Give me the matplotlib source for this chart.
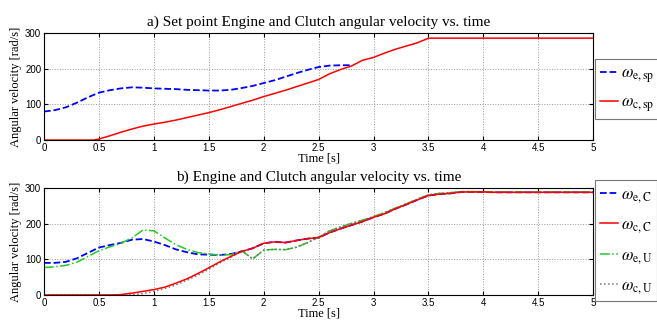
import matplotlib.pyplot as plt
import numpy as np

#-------------------------------------------------------------------------------
# DATA
#-------------------------------------------------------------------------------

# a) set points
t_e_sp = np.round(np.arange(0, 2.85, 0.1), 2)
w_e_sp = [80, 84, 92, 105, 120, 133, 140, 145, 148, 147, 145, 144, 143, 141,
          140, 139, 139, 141, 146, 152, 160, 168, 178, 188, 197, 205, 209, 210,
          210]

t_c_sp = [0, 0.45, 0.5, 0.6, 0.7, 0.8, 0.9, 1.0, 1.1, 1.2, 1.3, 1.4, 1.5, 1.6,
          1.7, 1.8, 1.9, 2.0, 2.1, 2.2, 2.3, 2.4, 2.5, 2.6, 2.7, 2.8, 2.9, 3.0,
          3.1, 3.2, 3.3, 3.4, 3.5, 5.0]
w_c_sp = [0, 0, 3, 12, 22, 31, 39, 45, 50, 56, 63, 70, 77, 85, 94, 103, 112,
          122, 131, 140, 150, 160, 170, 186, 198, 208, 224, 232, 244, 255, 264,
          273, 286, 286]

# b) controlled (C) and uncontrolled (U) responses, 0.1 s steps
t_b = np.round(np.arange(0, 5.05, 0.1), 2)
w_c_C = [0, 0, 0, 0, 0, 0, 0, 1, 5, 10, 15, 22, 33, 45, 60, 76, 93, 108, 122,
         131, 145, 149, 147, 153, 158, 161, 175, 186, 196, 206, 218, 228, 242,
         254, 267, 279, 283, 285, 289, 289, 289, 288, 288, 288, 288, 288, 288,
         288, 288, 288, 288]
w_e_C = [90, 90, 93, 103, 118, 133, 140, 146, 155, 157, 150, 140, 128, 120,
         114, 113, 112, 115, 122] + w_c_C[19:]
w_e_U = [77, 79, 83, 92, 108, 124, 135, 145, 160, 182, 180, 160, 141, 128, 119,
         115, 112, 113, 124, 101, 126, 128, 127, 134, 147, 162, 180, 191, 201,
         210, 220, 231, 244, 256, 269, 281, 285, 287, 290, 290, 290, 289, 289,
         289, 289, 289, 289, 289, 289, 289, 289]
w_c_U = [0, 0, 0, 0, 0, 0, 0, 0, 0, 4, 10, 18, 28, 41, 56, 72, 90, 106,
         124] + w_e_U[19:]

#-------------------------------------------------------------------------------
# PLOT
#-------------------------------------------------------------------------------

plt.rcParams['mathtext.fontset'] = 'stix'
SERIF = 'Liberation Serif'


def style_axes(ax, title):
    ax.set_xlim(0, 5)
    ax.set_ylim(0, 300)
    ax.set_xticks(np.arange(0, 5.01, 0.5))
    ax.set_xticklabels(['0', '0.5', '1', '1.5', '2', '2.5', '3', '3.5', '4',
                        '4.5', '5'])
    ax.set_yticks([0, 100, 200, 300])
    ax.tick_params(direction='in', top=True, right=True, length=3,
                   labelsize=7, pad=2)
    for lab in ax.get_xticklabels() + ax.get_yticklabels():
        lab.set_family('Liberation Sans')
    ax.grid(True, linestyle=':', color='#999999', linewidth=0.7)
    for s in ax.spines.values():
        s.set_linewidth(0.8)
    ax.set_title(title, family=SERIF, fontsize=11, pad=5)
    ax.set_xlabel('Time [s]', family=SERIF, fontsize=9, labelpad=0)
    ax.set_ylabel('Angular velocity [rad/s]', family=SERIF, fontsize=9,
                  labelpad=2)


fig = plt.figure(figsize=(6.57, 3.22), dpi=100)
ax1 = fig.add_axes([0.067, 0.565, 0.836, 0.332])
ax2 = fig.add_axes([0.067, 0.084, 0.836, 0.332])

ax1.plot(t_e_sp, w_e_sp, '--', color='blue', lw=1.3,
         label=r'$\omega_{\mathrm{e,sp}}$')
ax1.plot(t_c_sp, w_c_sp, '-', color='red', lw=1.1,
         label=r'$\omega_{\mathrm{c,sp}}$')
style_axes(ax1, 'a) Set point Engine and Clutch angular velocity vs. time')

ax2.plot(t_b, w_e_C, '--', color='blue', lw=1.3, label=r'$\omega_{\mathrm{e,C}}$')
ax2.plot(t_b, w_e_U, '-.', color='#22cc22', lw=1.1,
         label=r'$\omega_{\mathrm{e,U}}$')
ax2.plot(t_b, w_c_U, ':', color='#777777', lw=1.1,
         label=r'$\omega_{\mathrm{c,U}}$')
ax2.plot(t_b, w_c_C, '-', color='red', lw=1.1, label=r'$\omega_{\mathrm{c,C}}$')
style_axes(ax2, 'b) Engine and Clutch angular velocity vs. time')

# legend order follows the original listing
h, l = ax2.get_legend_handles_labels()
order = [0, 3, 1, 2]

leg_kw = dict(loc='upper left', fontsize=12, frameon=True, fancybox=False,
              edgecolor='#555555', handlelength=1.1, handletextpad=0.15,
              borderpad=0.3, borderaxespad=0)
leg1 = ax1.legend(bbox_to_anchor=(0.9056, 0.817), bbox_transform=fig.transFigure,
                  labelspacing=0.45, **leg_kw)
leg2 = ax2.legend([h[i] for i in order], [l[i] for i in order],
                  bbox_to_anchor=(0.9056, 0.441), bbox_transform=fig.transFigure,
                  labelspacing=0.6, **leg_kw)
for leg in (leg1, leg2):
    leg.get_frame().set_linewidth(0.8)

fig.savefig('out.png', dpi=100)
